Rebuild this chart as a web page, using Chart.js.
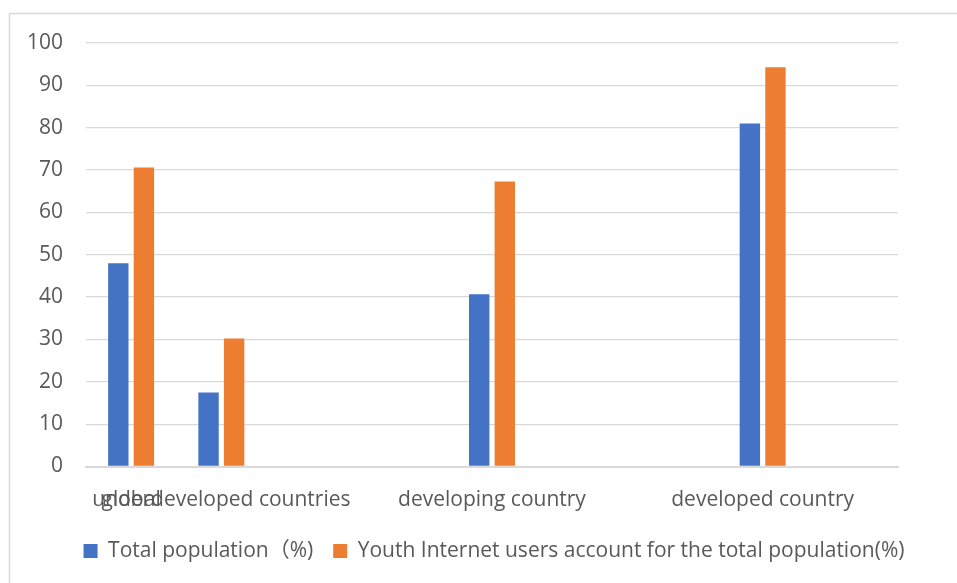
<!DOCTYPE html>
<html>
<head>
<meta charset="utf-8">
<script src="https://cdn.jsdelivr.net/npm/chart.js@4.4.1/dist/chart.umd.min.js"></script>
<style>
  html, body { margin: 0; padding: 0; background: #ffffff; }
  #wrap { width: 957px; height: 583px; }
</style>
</head>
<body>
<div id="wrap"><canvas id="c" width="957" height="583"></canvas></div>
<script>
// ---- data ----
// category slots of the horizontal axis (empty slots carry no bars)
const categories = ['global', 'underdeveloped countries', '', '', 'developing country', '', '', 'developed country', ''];
const seriesNames = ['Total population（%)', 'Youth Internet users account for the total population(%)'];
const totalPopulation = [48.0, 17.5, null, null, 40.7, null, null, 81.0, null];
const youthInternetUsers = [70.6, 30.2, null, null, 67.3, null, null, 94.3, null];
const yTickValues = [0, 10, 20, 30, 40, 50, 60, 70, 80, 90, 100];

const FONT = "'Open Sans', 'Noto Sans CJK SC', sans-serif";
const TEXT = '#595959';
const GRID = '#d9d9d9';

const framePlugin = {
  id: 'frame',
  beforeDraw(chart) {
    const ctx = chart.ctx;
    ctx.save();
    ctx.fillStyle = '#ffffff';
    ctx.fillRect(0, 0, chart.width, chart.height);
    ctx.strokeStyle = GRID;
    ctx.lineWidth = 1.5;
    ctx.beginPath();
    ctx.moveTo(9.5, chart.height);
    ctx.lineTo(9.5, 13.5);
    ctx.lineTo(chart.width, 13.5);
    ctx.stroke();
    ctx.restore();
  }
};

const centerLegend = {
  id: 'centerLegend',
  afterLayout(chart) {
    const lg = chart.legend;
    const ca = chart.chartArea;
    if (!lg || !ca) return;
    const c = (ca.left + ca.right) / 2 + 2;
    const half = (lg.right - lg.left) / 2;
    lg.left = c - half;
    lg.right = c + half;
  }
};

new Chart(document.getElementById('c'), {
  type: 'bar',
  data: {
    labels: categories,
    datasets: [
      { label: seriesNames[0], data: totalPopulation, backgroundColor: '#4472C4', borderWidth: 0 },
      { label: seriesNames[1], data: youthInternetUsers, backgroundColor: '#ED7D31', borderWidth: 0 }
    ]
  },
  options: {
    responsive: false,
    animation: false,
    devicePixelRatio: 1,
    categoryPercentage: 0.567,
    barPercentage: 0.797,
    layout: { padding: { top: 43, left: 0, right: 59, bottom: 11.5 } },
    plugins: {
      tooltip: { enabled: false },
      title: { display: false },
      legend: {
        position: 'bottom',
        align: 'center',
        labels: {
          boxWidth: 14,
          boxHeight: 14,
          padding: 20,
          color: TEXT,
          font: { family: FONT, size: 21 }
        }
      }
    },
    scales: {
      x: {
        type: 'category',
        offset: true,
        grid: { display: false },
        border: { display: true, color: GRID, width: 2 },
        ticks: {
          autoSkip: false,
          maxRotation: 0,
          minRotation: 0,
          padding: 13,
          color: TEXT,
          font: { family: FONT, size: 21 }
        },
        afterFit(scale) { scale.height = 54; }
      },
      y: {
        min: 0,
        max: 100,
        grid: { color: GRID, lineWidth: 1.3, drawTicks: false },
        border: { display: false },
        afterBuildTicks(scale) { scale.ticks = yTickValues.map(v => ({ value: v })); },
        ticks: {
          padding: 23,
          color: TEXT,
          font: { family: FONT, size: 21 }
        },
        afterFit(scale) { scale.width = 86; }
      }
    }
  },
  plugins: [framePlugin, centerLegend]
});
</script>
</body>
</html>
